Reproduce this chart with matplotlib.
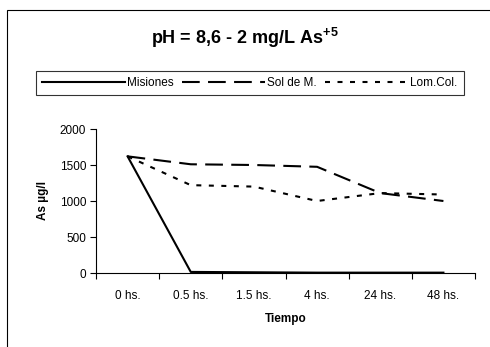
import matplotlib.pyplot as plt
from matplotlib.patches import Rectangle
import numpy as np

plt.rcParams['font.family'] = ['Liberation Sans', 'DejaVu Sans']
plt.rcParams['mathtext.fontset'] = 'custom'
plt.rcParams['mathtext.rm'] = 'Liberation Sans'
plt.rcParams['mathtext.bf'] = 'Liberation Sans:bold'

# datos
tiempos = ['0 hs.', '0.5 hs.', '1.5 hs.', '4 hs.', '24 hs.', '48 hs.']
misiones = [1620, 15, 10, 5, 5, 5]
sol_de_m = [1620, 1510, 1500, 1475, 1110, 1000]
lom_col = [1620, 1220, 1200, 1000, 1110, 1090]

W, H = 490, 347
fig = plt.figure(figsize=(W / 100, H / 100), dpi=100)
ax = fig.add_axes([96 / W, 1 - 273 / H, (475 - 96) / W, (273 - 129) / H])

x = np.arange(len(tiempos))
ax.plot(x, misiones, color='black', lw=1.5, label='Misiones')
ax.plot(x, sol_de_m, color='black', lw=1.5, dashes=(8.5, 4), label='Sol de M.')
ax.plot(x, lom_col, color='black', lw=1.5, dashes=(2.4, 3.6), label='Lom.Col.')

ax.set_xlim(-0.5, len(tiempos) - 0.5)
ax.set_ylim(0, 2000)
ax.set_yticks([0, 500, 1000, 1500, 2000])
ax.set_xticks(x)
ax.set_xticklabels(tiempos)
ax.set_xticks(np.arange(-0.5, len(tiempos)), minor=True)
ax.tick_params(axis='x', which='major', length=0, pad=12, labelsize=8.5)
ax.tick_params(axis='x', which='minor', length=4, width=0.8, direction='out')
ax.tick_params(axis='y', length=4, width=0.8, direction='out', pad=3, labelsize=8.5)
ax.spines['top'].set_visible(False)
ax.spines['right'].set_visible(False)
ax.spines['left'].set_linewidth(0.8)
ax.spines['bottom'].set_linewidth(0.8)

ax.set_xlabel('Tiempo', fontsize=8.5, fontweight='bold', labelpad=8)
ax.set_ylabel('As µg/l', fontsize=8.5, fontweight='bold', labelpad=8)

fig.text(245 / W, 1 - 38 / H, r'pH = 8,6 - 2 mg/L As$^{\mathbf{+5}}$', ha='center', va='center',
         fontsize=13, fontweight='bold')

leg = fig.legend(loc='center', bbox_to_anchor=(250 / W, 1 - 83 / H), ncol=3,
                 fontsize=8.5, frameon=True, fancybox=False, handlelength=7.0,
                 handletextpad=0.2, columnspacing=0.7, borderpad=0.55)
leg.get_frame().set_edgecolor('black')
leg.get_frame().set_linewidth(0.8)

# marco del area del grafico
fig.add_artist(Rectangle((7 / W, -0.1), 1.2, 1 - 10 / H + 0.1, fill=False,
                         edgecolor='black', lw=0.8, transform=fig.transFigure))

fig.savefig('out.png', dpi=100)
